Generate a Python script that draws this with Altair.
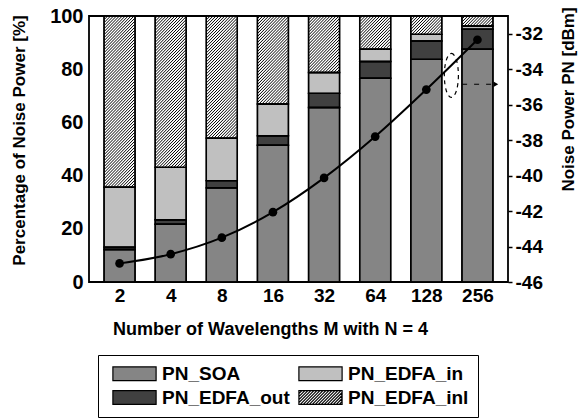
import json
import math
import altair as alt
import pandas as pd

# ---------------- data ----------------
categories = ["2", "4", "8", "16", "32", "64", "128", "256"]
components = ["PN_SOA", "PN_EDFA_in", "PN_EDFA_out", "PN_EDFA_inl"]
pn_soa = [12.2, 21.7, 35.4, 51.4, 65.6, 76.6, 83.7, 87.5]
pn_edfa_out = [0.9, 1.7, 2.7, 3.6, 5.3, 6.3, 6.9, 7.5]
pn_edfa_in = [22.5, 19.7, 16.0, 11.9, 7.85, 4.6, 2.5, 1.25]
pn_edfa_inl = [64.4, 56.9, 45.9, 33.1, 21.25, 12.5, 6.9, 3.75]
noise_power_dbm = [-44.95, -44.43, -43.5, -42.06, -40.13, -37.8, -35.15, -32.34]

# annotation (dashed ellipse + dashed arrow to the right axis)
ann_ellipse_x, ann_ellipse_y = 6.49, -34.35
ann_arrow_x0, ann_arrow_x1, ann_arrow_y = 6.70, 7.36, -34.85

# ---------------- layout / style ----------------
PLOT_W, PLOT_H = 419, 266
BAR_W = 31
X_MIN, X_MAX = -0.5, 7.5
FONT = "Liberation Sans"
fill_colors = ["#858585", "#c0c0c0", "#404040", "#ffffff"]

# stacked bar table (stack order bottom -> top: SOA, EDFA_out, EDFA_in, EDFA_inl)
rows = []
for i, cat in enumerate(categories):
    base = 0.0
    for comp, vals in [("PN_SOA", pn_soa), ("PN_EDFA_out", pn_edfa_out),
                       ("PN_EDFA_in", pn_edfa_in), ("PN_EDFA_inl", pn_edfa_inl)]:
        rows.append(dict(idx=i, cat=cat, comp=comp, y0=base, y1=base + vals[i]))
        base += vals[i]
bars_df = pd.DataFrame(rows)

# hatch lines for the PN_EDFA_inl segments (45 degrees in screen space)
px_x = PLOT_W / (X_MAX - X_MIN)
px_y = PLOT_H / 100.0
STEP = 3.0
hatch = []
for i in range(len(categories)):
    top_in = pn_soa[i] + pn_edfa_out[i] + pn_edfa_in[i]
    u0 = (i - X_MIN) * px_x - BAR_W / 2
    u1 = u0 + BAR_W
    v0 = top_in * px_y
    v1 = (top_in + pn_edfa_inl[i]) * px_y
    kmin = math.floor((v0 - u1) / STEP)
    kmax = math.ceil((v1 - u0) / STEP)
    for k in range(kmin, kmax + 1):
        c = k * STEP
        ua = max(u0, v0 - c)
        ub = min(u1, v1 - c)
        if ub - ua > 0.4:
            hatch.append(dict(x=ua / px_x + X_MIN, x2=ub / px_x + X_MIN,
                              y=(ua + c) / px_y, y2=(ub + c) / px_y))
hatch_df = pd.DataFrame(hatch)

# legend symbol shapes (wide rectangles, last one hatched)
HW, HH = 2.7, 0.85
rect_path = f"M{-HW},{-HH}H{HW}V{HH}H{-HW}Z"
hp = rect_path
cu = -HW - HH
while cu <= HW + HH:
    xa = max(-HW, cu - HH)
    xb = min(HW, cu + HH)
    if xb - xa > 0.05:
        hp += f"M{xa:.3f},{cu - xa:.3f}L{xb:.3f},{cu - xb:.3f}"
    cu += STEP / 8.0
shape_paths = [rect_path, rect_path, rect_path, hp]

line_df = pd.DataFrame({"idx": list(range(len(categories))), "dbm": noise_power_dbm})
ell_df = pd.DataFrame({"x": [ann_ellipse_x], "y": [ann_ellipse_y]})
arr_df = pd.DataFrame({"x": [ann_arrow_x0], "x2": [ann_arrow_x1], "y": [ann_arrow_y]})
head_df = pd.DataFrame({"x": [ann_arrow_x1], "y": [ann_arrow_y]})

# ---------------- scales / axes ----------------
x_scale = alt.Scale(domain=[X_MIN, X_MAX], nice=False, zero=False)
yl_scale = alt.Scale(domain=[0, 100], nice=False)
yr_scale = alt.Scale(domain=[-46, -31], nice=False, zero=False)

label_expr = json.dumps(categories) + "[datum.value]"
x_axis = alt.Axis(values=list(range(len(categories))), labelExpr=label_expr,
                  tickSize=0, domain=False, grid=False, labelPadding=4,
                  labelFontSize=19, labelFontWeight="bold", labelFont=FONT,
                  labelColor="black",
                  title="Number of Wavelengths M with N = 4", titleFontSize=18,
                  titleFont=FONT, titleFontWeight="bold", titleColor="black",
                  titleX=181, titleY=47, titleBaseline="middle", titleAlign="center")
yl_axis = alt.Axis(orient="left", values=[0, 20, 40, 60, 80, 100], tickSize=0,
                   domain=False, grid=False, labelPadding=6, labelFontSize=20,
                   labelFontWeight="bold", labelFont=FONT, labelColor="black",
                   title="Percentage of Noise Power [%]", titleFontSize=17,
                   titleFont=FONT, titleFontWeight="bold", titleColor="black",
                   titleX=-70, titleY=124, titleAngle=270, titleAlign="center",
                   titleBaseline="middle")
yr_axis = alt.Axis(orient="right", values=list(range(-46, -31, 2)),
                   labelExpr="'' + datum.value", tickSize=4, tickWidth=1.5,
                   tickColor="black", domain=False, grid=False, labelPadding=3,
                   labelFontSize=19, labelFontWeight="bold", labelFont=FONT,
                   labelColor="black",
                   title="Noise Power PN [dBm]", titleFontSize=17, titleFont=FONT,
                   titleFontWeight="bold", titleColor="black",
                   titleX=60, titleY=83, titleAngle=270, titleAlign="center",
                   titleBaseline="middle")

legend = alt.Legend(title=None, orient="none", legendX=9, legendY=339,
                    direction="horizontal", columns=2, columnPadding=3,
                    rowPadding=4, padding=9, strokeColor="black",
                    fillColor="white", labelFont=FONT, labelFontSize=19,
                    labelFontWeight="bold", labelColor="black",
                    symbolSize=256, symbolOffset=18, labelOffset=18,
                    symbolStrokeColor="black", symbolStrokeWidth=1.2)

fill_enc = alt.Fill("comp:N", scale=alt.Scale(domain=components, range=fill_colors),
                    legend=legend)

X_L = alt.X("idx:Q", scale=x_scale, axis=x_axis)

bars = alt.Chart(bars_df).mark_bar(width=BAR_W, stroke="black", strokeWidth=1.4).encode(
    x=X_L,
    y=alt.Y("y0:Q", scale=yl_scale, axis=yl_axis),
    y2="y1:Q",
    fill=fill_enc,
)

hatch_layer = alt.Chart(hatch_df).mark_rule(color="black", strokeWidth=1).encode(
    x=alt.X("x:Q", scale=x_scale, axis=x_axis),
    x2="x2:Q",
    y=alt.Y("y:Q", scale=yl_scale, axis=yl_axis),
    y2="y2:Q",
)

# bar outlines redrawn on top of the hatching
outlines = alt.Chart(bars_df).mark_bar(width=BAR_W, stroke="black", strokeWidth=1.4,
                                       fillOpacity=0).encode(
    x=X_L,
    y=alt.Y("y0:Q", scale=yl_scale, axis=yl_axis),
    y2="y1:Q",
)

legend_pts = alt.Chart(bars_df).transform_filter("false").mark_point(
    filled=True, stroke="black", strokeWidth=1.2, opacity=1, strokeOpacity=1).encode(
    x=X_L,
    y=alt.Y("y0:Q", scale=yl_scale, axis=yl_axis),
    fill=fill_enc,
    shape=alt.Shape("comp:N", scale=alt.Scale(domain=components, range=shape_paths),
                    legend=legend),
)

left = alt.layer(bars, hatch_layer, outlines, legend_pts)

Y_R = alt.Y("dbm:Q", scale=yr_scale, axis=yr_axis)

line = alt.Chart(line_df).mark_line(color="black", strokeWidth=2,
                                    interpolate="monotone").encode(x=X_L, y=Y_R)
pts = alt.Chart(line_df).mark_circle(size=75, color="black", opacity=1).encode(
    x=X_L, y=Y_R)
ellipse = alt.Chart(ell_df).mark_point(
    shape="M0,-1A0.32,1,0,1,1,0,1A0.32,1,0,1,1,0,-1Z", size=1936, filled=False,
    stroke="black", strokeWidth=1.2, strokeDash=[4, 4], opacity=1).encode(
    x=alt.X("x:Q", scale=x_scale, axis=x_axis),
    y=alt.Y("y:Q", scale=yr_scale, axis=yr_axis),
)
arrow = alt.Chart(arr_df).mark_rule(color="black", strokeWidth=1.2,
                                    strokeDash=[5, 7]).encode(
    x=alt.X("x:Q", scale=x_scale, axis=x_axis),
    x2="x2:Q",
    y=alt.Y("y:Q", scale=yr_scale, axis=yr_axis),
)
head = alt.Chart(head_df).mark_point(shape="triangle-right", size=30, filled=True,
                                     color="black", opacity=1).encode(
    x=alt.X("x:Q", scale=x_scale, axis=x_axis),
    y=alt.Y("y:Q", scale=yr_scale, axis=yr_axis),
)
right = alt.layer(line, pts, ellipse, arrow, head)

chart = alt.layer(left, right).resolve_scale(y="independent").properties(
    width=PLOT_W, height=PLOT_H,
    autosize=alt.AutoSizeParams(type="none"),
    padding={"left": 89, "top": 16, "right": 71, "bottom": 137},
    background="white",
).configure_view(stroke="black", strokeWidth=1.8).configure_legend(
    symbolStrokeColor="black", symbolStrokeWidth=1.2)

chart.save("out.html", embed_options={"renderer": "svg", "actions": False})
